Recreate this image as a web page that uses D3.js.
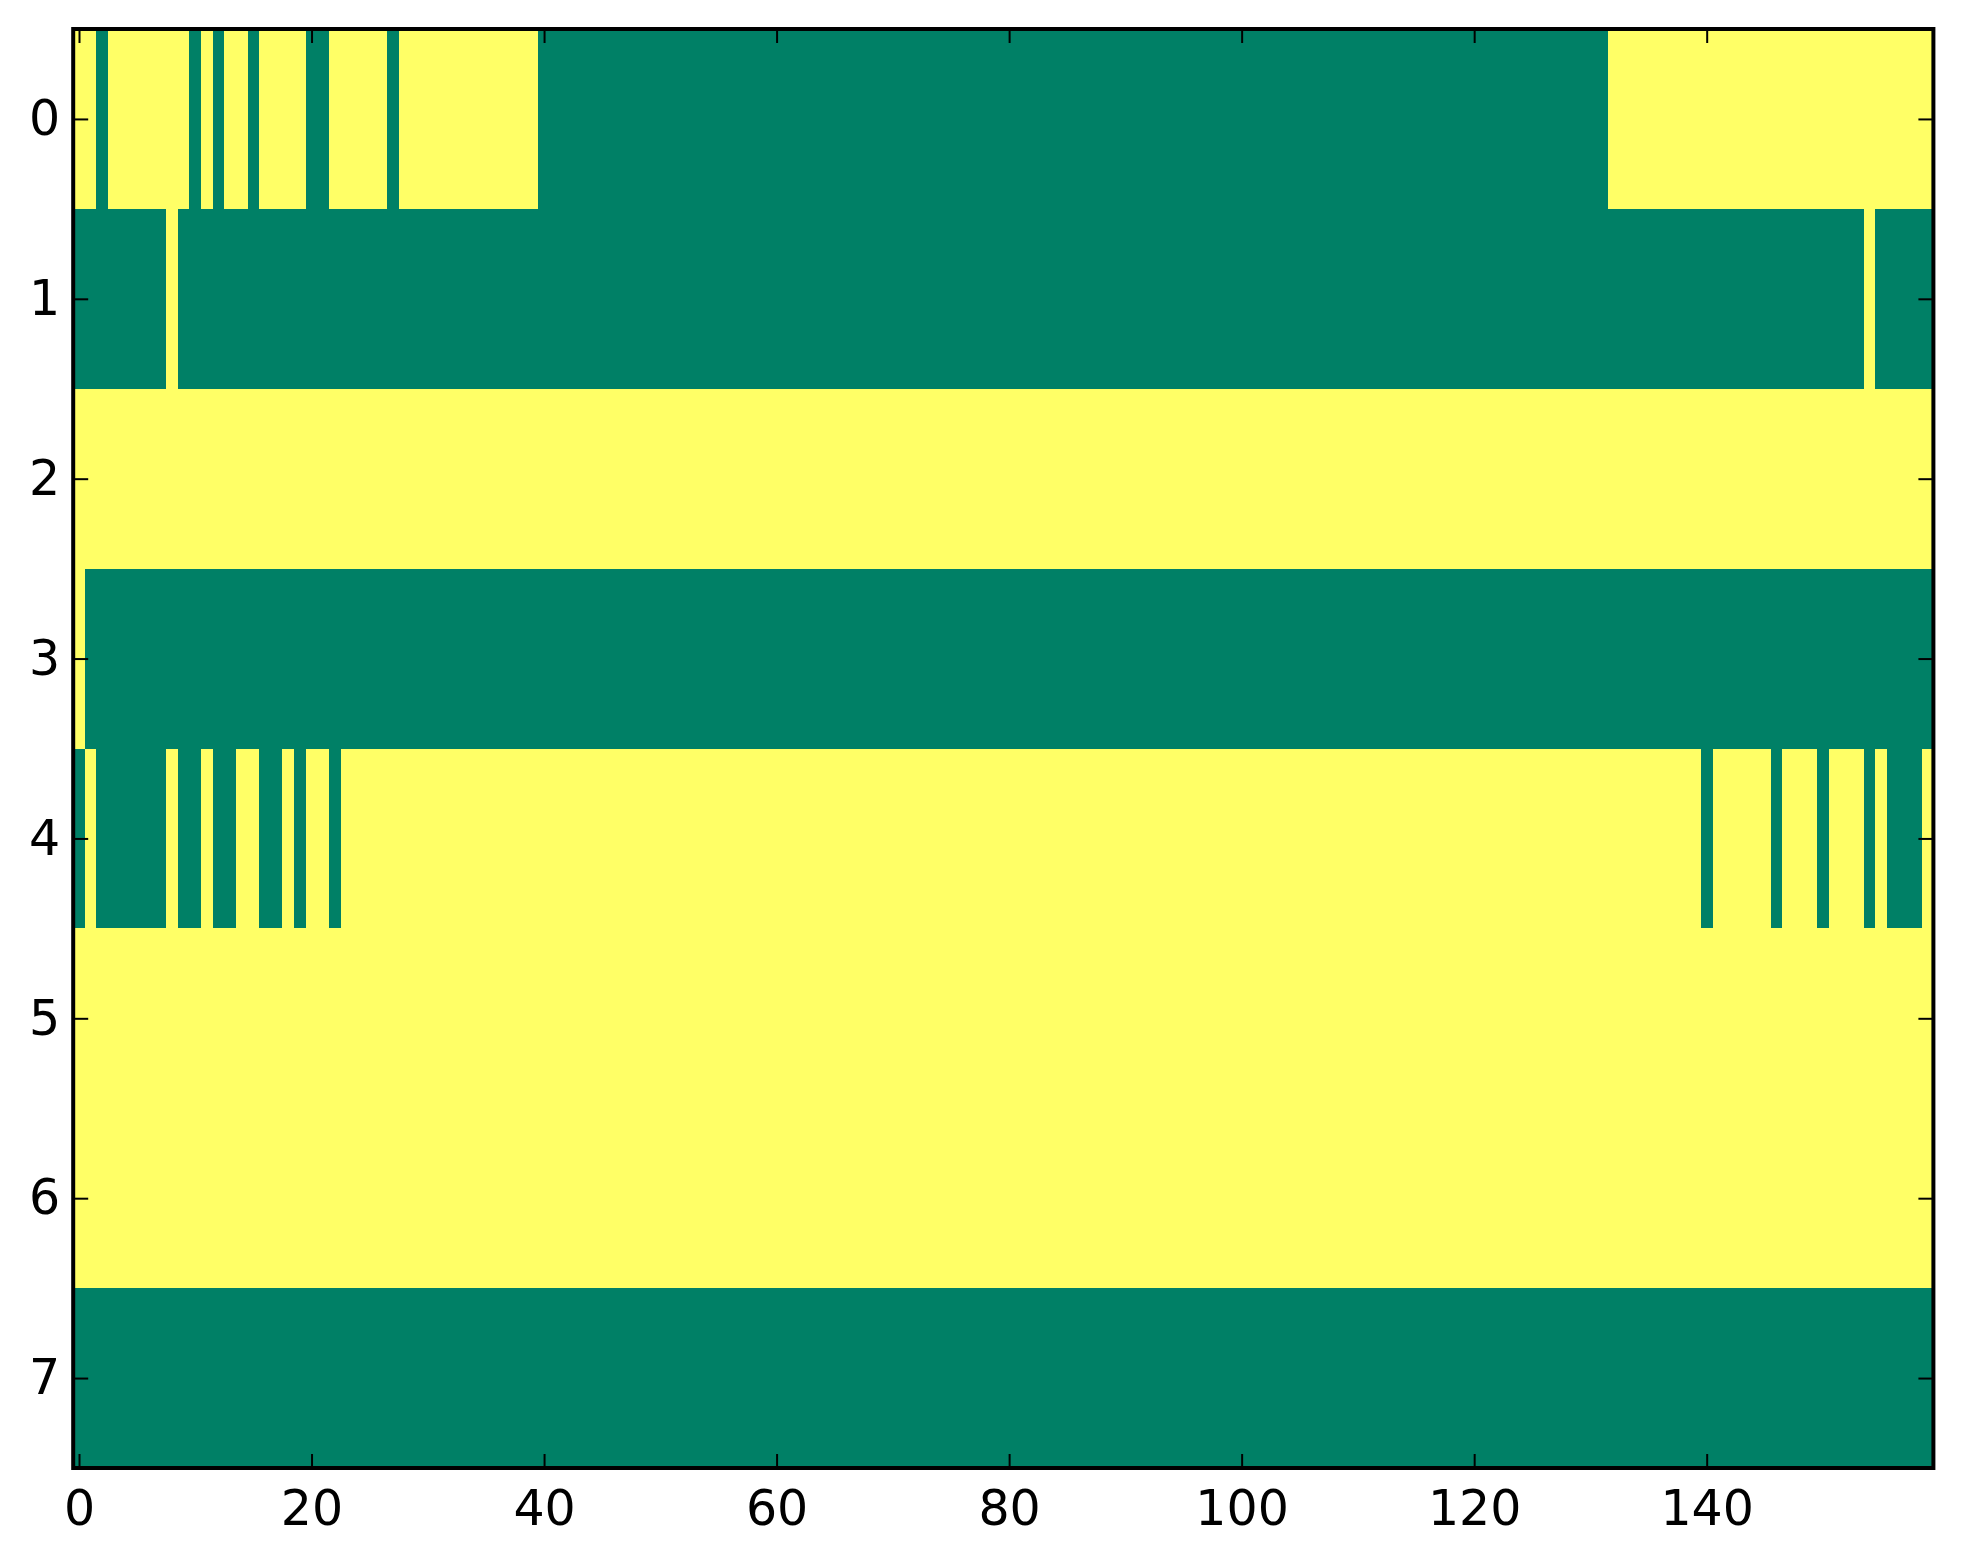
<!DOCTYPE html>
<html>
<head>
<meta charset="utf-8">
<script src="https://cdn.jsdelivr.net/npm/d3@7"></script>
<style>
  body { margin: 0; background: #fff; }
  .tick text { font-family: "DejaVu Sans", sans-serif; font-size: 49px; fill: #000; }
</style>
</head>
<body>
<svg id="chart" width="1963" height="1564"></svg>
<script>
// each row of the image as runs of [value, count]; 0 = green, 1 = yellow
var row0 = [[1,2],[0,1],[1,7],[0,1],[1,1],[0,1],[1,2],[0,1],[1,4],[0,2],[1,5],[0,1],[1,12],[0,92],[1,28]];
var row1 = [[0,8],[1,1],[0,145],[1,1],[0,5]];
var row2 = [[1,160]];
var row3 = [[1,1],[0,159]];
var row4 = [[0,1],[1,1],[0,6],[1,1],[0,2],[1,1],[0,2],[1,2],[0,2],[1,1],[0,1],[1,2],[0,1],[1,117],[0,1],[1,5],[0,1],[1,3],[0,1],[1,3],[0,1],[1,1],[0,3],[1,1]];
var row5 = [[1,160]];
var row6 = [[1,160]];
var row7 = [[0,160]];
var rows = [row0, row1, row2, row3, row4, row5, row6, row7];

var xTicks = [0, 20, 40, 60, 80, 100, 120, 140];
var yTicks = [0, 1, 2, 3, 4, 5, 6, 7];

// plot box in pixels (window.top is reserved, so no bare "top")
var plotLeft = 73.2, plotRight = 1933.4, plotTop = 29, plotBottom = 1468;

var svg = d3.select("#chart");

var x = d3.scaleLinear().domain([-0.5, 159.5]).range([plotLeft, plotRight]);
var y = d3.scaleLinear().domain([-0.5, 7.5]).range([plotTop, plotBottom]);
var color = d3.scaleOrdinal().domain([0, 1]).range(["#008066", "#ffff66"]);

//Turn the runs into one cell per column
var cells = [];
rows.forEach(function(runs, r) {
  var col = 0;
  runs.forEach(function(run) {
    for (var i = 0; i < run[1]; i++) {
      cells.push({ row: r, col: col, value: run[0] });
      col++;
    }
  });
});

svg.append("g")
  .selectAll("rect")
  .data(cells)
  .enter()
  .append("rect")
  .attr("x", function(d) { return x(d.col - 0.5); })
  .attr("y", function(d) { return y(d.row - 0.5); })
  .attr("width", function(d) { return x(d.col + 0.5) - x(d.col - 0.5); })
  .attr("height", function(d) { return y(d.row + 0.5) - y(d.row - 0.5); })
  .attr("fill", function(d) { return color(d.value); })
  .attr("shape-rendering", "crispEdges");

//Ticks point inwards on all four sides, labels only bottom and left
function styleAxis(g) {
  g.select(".domain").remove();
  g.selectAll(".tick line").attr("stroke", "#000").attr("stroke-width", 2);
}

svg.append("g")
  .attr("transform", "translate(0," + plotBottom + ")")
  .call(d3.axisBottom(x).tickValues(xTicks).tickSize(-14).tickPadding(22))
  .call(styleAxis);

svg.append("g")
  .attr("transform", "translate(0," + plotTop + ")")
  .call(d3.axisTop(x).tickValues(xTicks).tickSize(-14).tickFormat(""))
  .call(styleAxis);

svg.append("g")
  .attr("transform", "translate(" + plotLeft + ",0)")
  .call(d3.axisLeft(y).tickValues(yTicks).tickSize(-15).tickPadding(13))
  .call(styleAxis);

svg.append("g")
  .attr("transform", "translate(" + plotRight + ",0)")
  .call(d3.axisRight(y).tickValues(yTicks).tickSize(-15).tickFormat(""))
  .call(styleAxis);

svg.selectAll(".tick text").attr("font-family", null).attr("font-size", null);

//Frame around the image
svg.append("rect")
  .attr("x", plotLeft)
  .attr("y", plotTop)
  .attr("width", plotRight - plotLeft)
  .attr("height", plotBottom - plotTop)
  .attr("fill", "none")
  .attr("stroke", "#000")
  .attr("stroke-width", 4);
</script>
</body>
</html>
